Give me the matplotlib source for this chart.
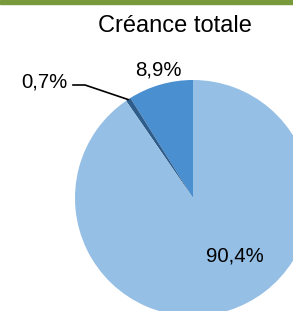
import matplotlib
matplotlib.use("Agg")
import matplotlib.pyplot as plt
from matplotlib.patches import Rectangle

plt.rcParams['font.family'] = ['Liberation Sans', 'DejaVu Sans']

title = "Créance totale"
categories = ["8,9%", "0,7%", "90,4%"]
values = [8.9, 0.7, 90.4]
colors = ["#4A8FD0", "#2E5D8C", "#95BFE5"]

W, H = 293, 311
fig = plt.figure(figsize=(W / 100, H / 100), dpi=100)
ax = fig.add_axes([0, 0, 1, 1])

cx, cy, r = 193, 198, 118
wedges, _ = ax.pie(values, colors=colors, startangle=-90, counterclock=False,
                   center=(cx, cy), radius=r, frame=True,
                   wedgeprops=dict(linewidth=0))
ax.set_xlim(0, W)
ax.set_ylim(H, 0)
ax.set_aspect('equal')
ax.axis('off')

# green top bar
ax.add_patch(Rectangle((0, 0), W, 4, color="#789A3C", clip_on=False))

ax.text(175, 32, title, ha='center', va='baseline', fontsize=17, color='#000000')

ax.text(158, 75, categories[0], ha='center', va='baseline', fontsize=14.7)
ax.text(44, 87, categories[1], ha='center', va='baseline', fontsize=14.7)
ax.text(234.5, 261, categories[2], ha='center', va='baseline', fontsize=14.7)

ax.plot([73, 85, 128], [85, 85, 99.5], color='black', lw=1.2)

fig.savefig("out.png", dpi=100)
